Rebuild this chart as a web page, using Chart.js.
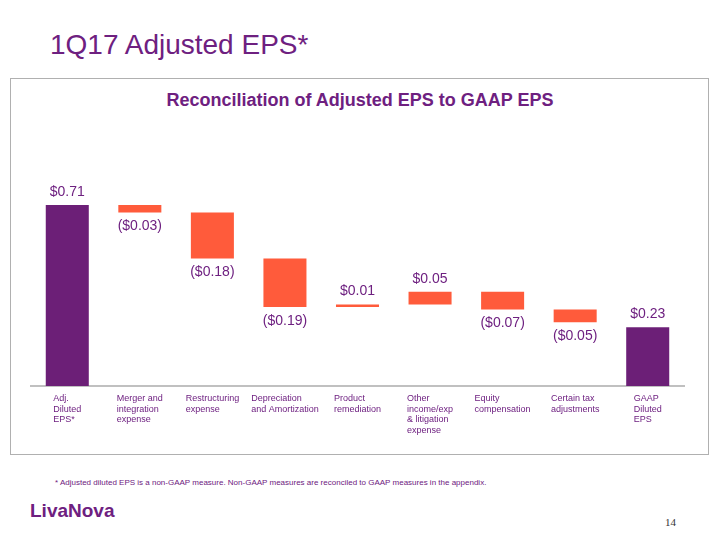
<!DOCTYPE html>
<html>
<head>
<meta charset="utf-8">
<script src="https://cdn.jsdelivr.net/npm/chart.js@4/dist/chart.umd.min.js"></script>
<style>
  html, body { margin: 0; padding: 0; background: #fff; }
  body { width: 720px; height: 540px; position: relative; overflow: hidden; font-family: "Liberation Sans", Arial, sans-serif; }
  .title { position: absolute; left: 50px; top: 29px; font-size: 28px; color: #6E2080; white-space: nowrap; }
  .box { position: absolute; left: 10px; top: 78px; width: 697px; height: 375px; border: 1.5px solid #B0B0B0; }
  .subtitle { position: absolute; left: 0; width: 720px; top: 90px; text-align: center; font-size: 18px; font-weight: bold; color: #6E2080; }
  .note { position: absolute; left: 55px; top: 478px; font-size: 8px; color: #6E2080; white-space: nowrap; }
  .logo { position: absolute; left: 30px; top: 500px; font-size: 19px; font-weight: bold; color: #6E2080; letter-spacing: 0px; }
  .page { position: absolute; left: 665px; top: 516px; font-family: "Liberation Serif", serif; font-size: 11px; color: #333; }
  #wrap { position: absolute; left: 0; top: 0; width: 720px; height: 540px; }
</style>
</head>
<body>
<div class="title">1Q17 Adjusted EPS*</div>
<div class="box"></div>
<div class="subtitle">Reconciliation of Adjusted EPS to GAAP EPS</div>
<div class="note">* Adjusted diluted EPS is a non-GAAP measure. Non-GAAP measures are reconciled to GAAP measures in the appendix.</div>
<div class="logo">LivaNova</div>
<div class="page">14</div>
<div id="wrap"><canvas id="chart"></canvas></div>
<script>
// data
const categories = [
  ['Adj.', 'Diluted', 'EPS*'],
  ['Merger and', 'integration', 'expense'],
  ['Restructuring', 'expense'],
  ['Depreciation', 'and Amortization'],
  ['Product', 'remediation'],
  ['Other', 'income/exp', '& litigation', 'expense'],
  ['Equity', 'compensation'],
  ['Certain tax', 'adjustments'],
  ['GAAP', 'Diluted', 'EPS']
];
const startValue = 0.71;
const adjustments = [-0.03, -0.18, -0.19, 0.01, 0.05, -0.07, -0.05];
const endValue = 0.23;

const PURPLE = '#6C1F77';
const ORANGE = '#FF5B3B';
const TEXT = '#6E2080';

// build floating bars
const bars = [[0, startValue]];
const colors = [PURPLE];
const amounts = [startValue];
let running = startValue;
adjustments.forEach(v => {
  const next = Math.round((running + v) * 100) / 100;
  bars.push([running, next]);
  colors.push(ORANGE);
  amounts.push(v);
  running = next;
});
bars.push([0, endValue]);
colors.push(PURPLE);
amounts.push(endValue);

function fmt(v) {
  const s = '$' + Math.abs(v).toFixed(2);
  return v < 0 ? '(' + s + ')' : s;
}

const labelPlugin = {
  id: 'waterfallLabels',
  afterDatasetsDraw(chart) {
    const ctx = chart.ctx;
    const meta = chart.getDatasetMeta(0);
    const xs = chart.scales.x;
    ctx.save();
    ctx.fillStyle = TEXT;
    ctx.textAlign = 'center';
    ctx.textBaseline = 'middle';
    ctx.font = '14px "Liberation Sans", Arial, sans-serif';
    meta.data.forEach((bar, i) => {
      const v = amounts[i];
      const top = Math.min(bar.y, bar.base);
      const bottom = Math.max(bar.y, bar.base);
      if (v >= 0) ctx.fillText(fmt(v), bar.x, top - 13);
      else ctx.fillText(fmt(v), bar.x, bottom + 14);
    });
    // category labels: block centred, lines left-aligned
    ctx.font = '9px "Liberation Sans", Arial, sans-serif';
    ctx.textAlign = 'left';
    ctx.textBaseline = 'middle';
    categories.forEach((lines, i) => {
      const cx = xs.getPixelForValue(i);
      const w = Math.max(...lines.map(l => ctx.measureText(l).width));
      lines.forEach((l, j) => {
        ctx.fillText(l, cx - w / 2, xs.bottom + 13 + j * 10.5);
      });
    });
    ctx.restore();
  }
};

new Chart(document.getElementById('chart').getContext('2d'), {
  type: 'bar',
  data: {
    labels: categories.map(c => c.join(' ')),
    datasets: [{
      data: bars,
      backgroundColor: colors,
      borderWidth: 0,
      borderSkipped: false,
      barPercentage: 0.593,
      categoryPercentage: 1.0
    }]
  },
  options: {
    responsive: true,
    maintainAspectRatio: false,
    animation: false,
    layout: { padding: { left: 31, right: 36, top: 182, bottom: 154 } },
    scales: {
      x: {
        grid: { display: false, drawTicks: false },
        border: { display: true, color: '#C0C0C0', width: 2 },
        ticks: { display: false }
      },
      y: {
        display: false,
        min: 0,
        max: 0.8
      }
    },
    plugins: {
      legend: { display: false },
      tooltip: { enabled: false }
    }
  },
  plugins: [labelPlugin]
});
</script>
</body>
</html>
